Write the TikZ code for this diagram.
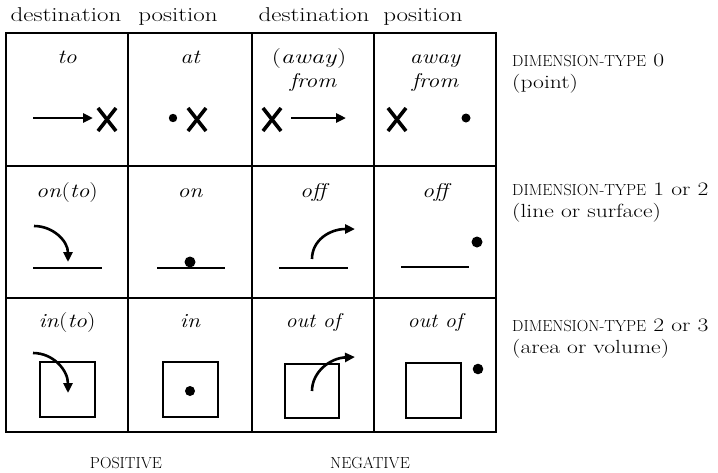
\documentclass[tikz,border=0pt]{standalone}
\usetikzlibrary{arrows.meta}
\usepackage{graphicx}
\newcommand{\sx}[1]{\scalebox{1.18}[1]{#1}}
\newcommand{\hx}[1]{\scalebox{1.25}[1]{#1}}
\newcommand{\sidex}[1]{\scalebox{1.24}[1]{#1}}
\newcommand{\fsc}[1]{{\fontsize{16}{18}\selectfont #1}}
\begin{document}
\begin{tikzpicture}[x=1pt,y=-1pt,
  outer/.style={line width=2.6pt},
  inner/.style={line width=1.7pt},
  hdr/.style={font=\fontsize{20}{22}\selectfont, anchor=base, inner sep=0pt},
  lab/.style={font=\fontsize{20}{22}\selectfont\itshape, anchor=base, inner sep=0pt},
  side/.style={font=\fontsize{19}{21}\selectfont, anchor=base west, inner sep=0pt},
  arr/.style={line width=2.6pt, -{Triangle[length=10pt,width=9pt]}},
  surf/.style={line width=2pt},
  sq/.style={line width=1.6pt},
  xmark/.style={line width=3.6pt},
  dot/.style={fill=black}
]
\useasboundingbox (0,0) rectangle (718,472);
% headers
\node[hdr] (h1) at (66,21) {\hx{destination}};
\node[hdr] (h2) at (178,21) {\hx{position}};
\node[hdr] (h3) at (314,21) {\hx{destination}};
\node[hdr] (h4) at (423,21) {\hx{position}};
% table
\draw[outer] (6,33) rectangle (496,432);
\draw[inner] (128,33) -- (128,432);
\draw[outer] (252,33) -- (252,432);
\draw[inner] (374,33) -- (374,432);
\draw[inner] (6,166) -- (496,166);
\draw[inner] (6,298) -- (496,298);
% row 1 labels
\node[lab] (l11) at (67,63) {\sx{to}};
\node[lab] (l12) at (190,63) {\sx{at}};
\node[lab] (l13) at (309,63) {\scalebox{1.3}[1]{\textup{(}away\textup{)}}};
\node[lab] (l13b) at (313,87) {\sx{from}};
\node[lab] (l14) at (435,63) {\sx{away}};
\node[lab] (l14b) at (435,87) {\sx{from}};
% row 1 symbols
\draw[arr] (33,118) -- (93,118);
\draw[xmark] (98,108) -- (116,131) (116,108) -- (98,131);
\fill[dot] (173,118) circle (4.2);
\draw[xmark] (188,108) -- (206,131) (206,108) -- (188,131);
\draw[xmark] (263,108) -- (281,131) (281,108) -- (263,131);
\draw[arr] (291,118) -- (346,118);
\draw[xmark] (388,108) -- (406,131) (406,108) -- (388,131);
\fill[dot] (466,118) circle (4.5);
% row 2 labels
\node[lab] (l21) at (67,197) {\sx{on\textup{(}to\textup{)}}};
\node[lab] (l22) at (190,197) {\sx{on}};
\node[lab] (l23) at (313,197) {\sx{off}};
\node[lab] (l24) at (435,197) {\sx{off}};
% row 2 symbols
\draw[surf] (33,268) -- (102,268);
\draw[arr] (34,226) .. controls (53,226) and (68,241) .. (68,262);
\fill[dot] (190,262) circle (5.5);
\draw[surf] (157,268) -- (225,268);
\draw[surf] (279,268) -- (348,268);
\draw[arr] (312,259) .. controls (312,240) and (330,229) .. (355,229);
\draw[surf] (401,267) -- (469,267);
\fill[dot] (477,242) circle (5.5);
% row 3 labels
\node[lab] (l31) at (67,327) {\sx{in\textup{(}to\textup{)}}};
\node[lab] (l32) at (190,327) {\sx{in}};
\node[lab] (l33) at (313,327) {\scalebox{1.1}[1]{out\ of}};
\node[lab] (l34) at (435,327) {\scalebox{1.1}[1]{out\ of}};
% row 3 symbols
\draw[sq] (40,362) rectangle (95,417);
\draw[arr] (33,353) .. controls (53,353) and (68,370) .. (68,393);
\draw[sq] (163,362) rectangle (218,417);
\fill[dot] (190,391) circle (5);
\draw[sq] (285,364) rectangle (339,418);
\draw[arr] (312,391) .. controls (312,372) and (330,358) .. (355,357);
\draw[sq] (406,363) rectangle (461,418);
\fill[dot] (478,369) circle (5.3);
% side labels
\node[side] (s1) at (512,66) {\fsc{DIMENSION-TYPE}\sidex{ 0}};
\node[side] (s1b) at (512,88) {\sidex{(point)}};
\node[side] (s2) at (512,195) {\fsc{DIMENSION-TYPE}\sidex{ 1 or 2}};
\node[side] (s2b) at (512,217) {\sidex{(line or surface)}};
\node[side] (s3) at (512,331) {\fsc{DIMENSION-TYPE}\sidex{ 2 or 3}};
\node[side] (s3b) at (512,353) {\sidex{(area or volume)}};
% bottom
\node[hdr] (pos) at (126,468) {\fsc{POSITIVE}};
\node[hdr] (neg) at (370,468) {\fsc{NEGATIVE}};
\end{tikzpicture}
\end{document}
